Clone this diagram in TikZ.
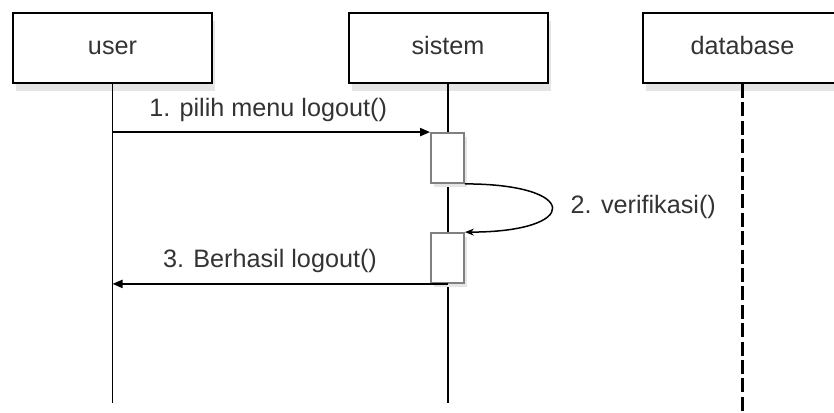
\documentclass[tikz,border=0pt]{standalone}
\usepackage{fontspec}
\setmainfont{Liberation Sans}
\usetikzlibrary{arrows.meta,shadows}

\begin{document}
\begin{tikzpicture}[
    x=0.5pt, y=-0.5pt,
    every node/.style={font=\fontsize{12.6pt}{15pt}\selectfont, text=black!80},
    actor/.style={draw=black, line width=1pt, fill=white, minimum width=99.5pt, minimum height=35pt, inner sep=0pt, text height=0.8em, text depth=0.2em, general shadow={fill=black!10, shadow xshift=1.5pt, shadow yshift=-3.75pt}},
    activ/.style={draw=black!50, line width=0.9pt, fill=white, minimum width=16.5pt, minimum height=25pt, inner sep=0pt, general shadow={fill=black!10, shadow xshift=1.5pt, shadow yshift=-2pt}},
    life/.style={black, line width=0.75pt},
    dblife/.style={black, line width=1.1pt, dash pattern=on 7pt off 2.2pt},
    msg/.style={black, line width=1pt, -{Triangle[length=5pt, width=4pt]}},
    selfmsg/.style={black, line width=0.75pt, -{Stealth[length=4.5pt, width=3.5pt]}},
    lbl/.style={inner sep=0pt, text height=0.75em, text depth=0.21em}
]
\useasboundingbox (0,0) rectangle (834,412);

% --- Objects ---
\node[actor] (user) at (112.5, 48) {user};
\node[actor] (sistem) at (448, 48) {sistem};
\node[actor] (database) at (742.5, 48) {database};

% Lifelines
\coordinate (userend) at (112.5, 403);
\coordinate (sistemend) at (448, 403);
\coordinate (databaseend) at (742.5, 414);
\draw[life] (user.south) -- (userend);
\draw[life] (sistem.south) -- (sistemend);
\draw[dblife] (database.south) -- (databaseend);

% Activation boxes on sistem
\node[activ] (act1) at (447.5, 158) {};
\node[activ] (act2) at (447.5, 258) {};

% --- Messages ---
\draw[msg] (act1.north west -| user.south) -- (act1.north west)
    node[lbl, pos=0.49, above=5.4pt] (m1) {1. pilih menu logout()};

\draw[selfmsg] (act1.south east) .. controls +(116,0) and +(116,0) .. (act2.north east)
    node[lbl, pos=0.5, right=9pt] (m2) {2. verifikasi()};

\draw[msg] (act2.south) -- (act2.south -| user.south)
    node[lbl, pos=0.53, above=5.4pt] (m3) {3. Berhasil logout()};

\end{tikzpicture}
\end{document}
